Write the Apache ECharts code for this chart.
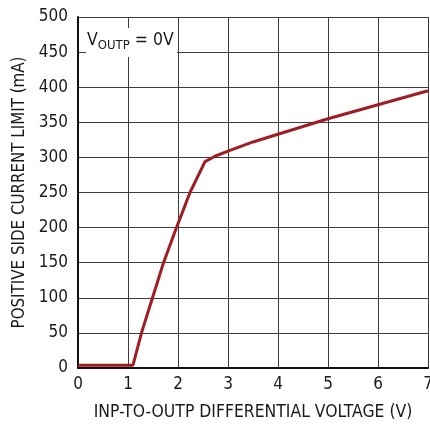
<!DOCTYPE html>
<html>
<head>
<meta charset="utf-8">
<script src="https://cdn.jsdelivr.net/npm/echarts@6/dist/echarts.min.js"></script>
<style>
  html, body { margin: 0; padding: 0; background: #fff; }
  #chart { width: 430px; height: 426px; }
</style>
</head>
<body>
<div id="chart"></div>
<script>
// Positive-side current limit versus input-to-output differential voltage
const voltage = [0, 1.1, 1.27, 1.49, 1.71, 1.97, 2.24, 2.54, 2.75, 3.0, 3.5, 4.0, 4.5, 5.0, 5.5, 6.0, 6.5, 7.0];
const currentLimit = [4, 4, 50, 100, 150, 200, 250, 294, 302, 309, 322, 333, 344, 355, 365, 375, 385, 395];
const xTicks = [0, 1, 2, 3, 4, 5, 6, 7];
const yTicks = [0, 50, 100, 150, 200, 250, 300, 350, 400, 450, 500];

const FONT = '"DejaVu Sans Condensed", "Liberation Sans", Arial, sans-serif';
const gridColor = '#3c3c3c';

const chart = echarts.init(document.getElementById('chart'));
chart.setOption({
  animation: false,
  backgroundColor: '#fff',
  grid: { left: 78, right: 2, top: 17, bottom: 58, outerBoundsMode: 'none', containLabel: false },
  xAxis: {
    type: 'value',
    min: xTicks[0],
    max: xTicks[xTicks.length - 1],
    interval: 1,
    name: 'INP-TO-OUTP DIFFERENTIAL VOLTAGE (V)',
    nameLocation: 'middle',
    nameGap: 36,
    nameTextStyle: { fontFamily: FONT, fontSize: 17.4, color: '#1a1a1a' },
    axisLine: { lineStyle: { color: '#111', width: 2 } },
    axisTick: { show: false },
    axisLabel: { fontFamily: FONT, fontSize: 17, color: '#1a1a1a', margin: 8 },
    splitLine: { lineStyle: { color: gridColor, width: 1 } }
  },
  yAxis: {
    type: 'value',
    min: yTicks[0],
    max: yTicks[yTicks.length - 1],
    interval: 50,
    name: 'POSITIVE SIDE CURRENT LIMIT (mA)',
    nameLocation: 'middle',
    nameGap: 45,
    nameTextStyle: { fontFamily: FONT, fontSize: 16.8, color: '#1a1a1a' },
    axisLine: { show: true, lineStyle: { color: '#111', width: 2 } },
    axisTick: { show: false },
    axisLabel: { fontFamily: FONT, fontSize: 17, color: '#1a1a1a', margin: 10 },
    splitLine: { lineStyle: { color: gridColor, width: 1 } }
  },
  graphic: [
    {
      type: 'rect',
      left: 86, top: 28,
      shape: { width: 91, height: 29 },
      style: { fill: '#fff' },
      z: 10
    },
    {
      type: 'text',
      left: 87, top: 31,
      z: 11,
      style: {
        text: '{v|V}{s|OUTP}{v| = 0V}',
        fontFamily: FONT,
        rich: {
          v: { fontFamily: FONT, fontSize: 17.5, fill: '#1a1a1a', verticalAlign: 'top' },
          s: { fontFamily: FONT, fontSize: 13, fill: '#1a1a1a', padding: [8, 0, 0, 0], verticalAlign: 'top' }
        }
      }
    }
  ],
  series: [{
    type: 'line',
    data: voltage.map((v, i) => [v, currentLimit[i]]),
    showSymbol: false,
    smooth: false,
    lineStyle: { color: '#a11d24', width: 3 },
    z: 5
  }]
});
</script>
</body>
</html>
